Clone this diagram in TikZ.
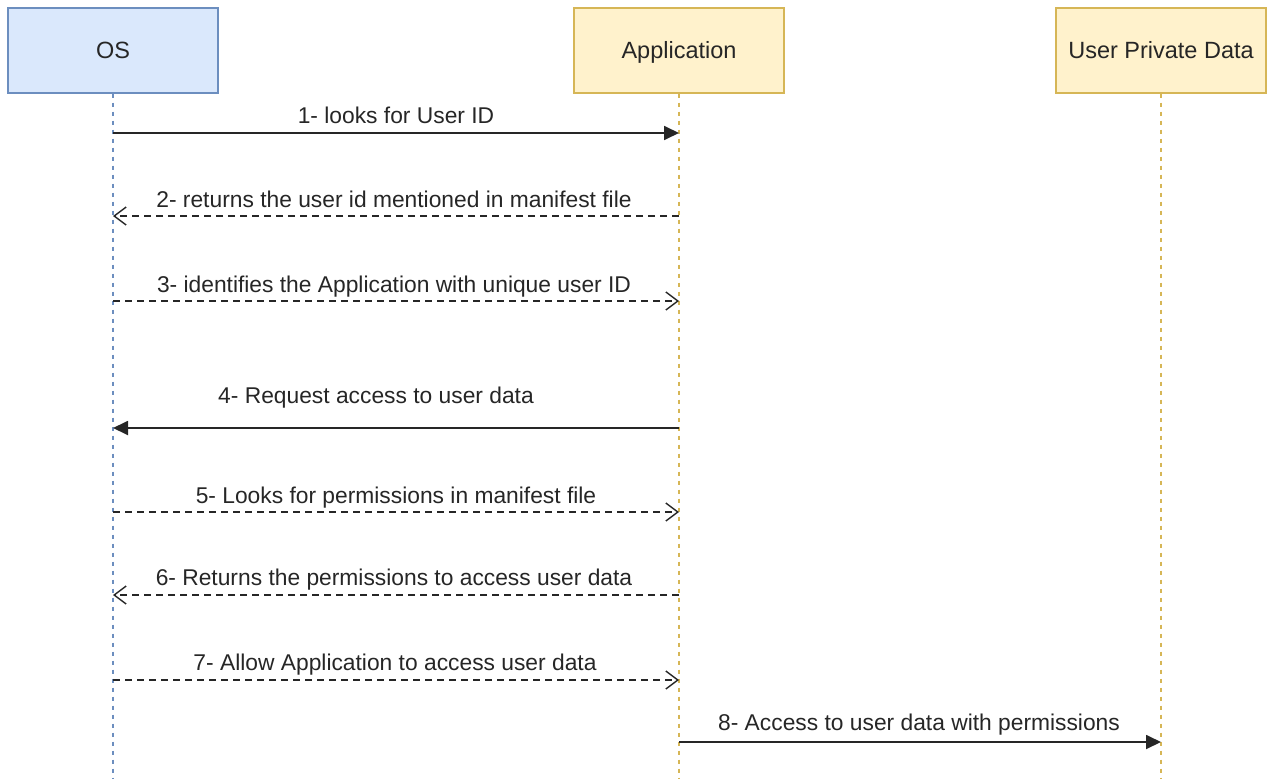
\documentclass[tikz,border=0pt]{standalone}
\usepackage{fontspec}
\setmainfont{Liberation Sans}
\usetikzlibrary{arrows.meta,positioning,calc}

\definecolor{osfill}{HTML}{DAE8FC}
\definecolor{osdraw}{HTML}{6C8EBF}
\definecolor{appfill}{HTML}{FFF2CC}
\definecolor{appdraw}{HTML}{D6B656}

\begin{document}
\begin{tikzpicture}
  \tikzstyle{actor} = [draw, line width=1.2pt, minimum width=210pt, minimum height=85pt,
                       inner sep=0pt, text height=16.5pt, text depth=0pt,
                       text=black!85, font=\fontsize{23.5}{28}\selectfont]
  \tikzstyle{lifeline} = [line width=1.2pt, dash pattern=on 4pt off 5pt]
  \tikzstyle{call} = [line width=1.8pt, black!85, -{Triangle[length=15pt,width=14pt]}]
  \tikzstyle{reply} = [line width=1.3pt, black!85, dash pattern=on 7pt off 5pt,
                       -{Straight Barb[length=12pt,width=18pt,line width=1.4pt]}]
  \tikzstyle{label} = [anchor=base, inner sep=0pt, text=black!85,
                       font=\fontsize{22.8}{27}\selectfont]

  \useasboundingbox (0pt,0pt) rectangle (1271pt,-779pt);

  \def\OS{113pt};
  \def\AP{679pt};
  \def\UD{1161pt};

  % actors
  \node[actor, fill=osfill, draw=osdraw]   (os)  at (\OS, -50.5pt) {OS};
  \node[actor, fill=appfill, draw=appdraw] (app) at (\AP, -50.5pt) {Application};
  \node[actor, fill=appfill, draw=appdraw] (upd) at (\UD, -50.5pt) {User Private Data};

  % lifelines
  \coordinate (osend)  at (\OS, -779pt);
  \coordinate (append) at (\AP, -779pt);
  \coordinate (updend) at (\UD, -779pt);
  \draw[lifeline, osdraw]  (os.south)  -- (osend);
  \draw[lifeline, appdraw] (app.south) -- (append);
  \draw[lifeline, appdraw] (upd.south) -- (updend);

  % OS side
  \coordinate (os1) at (\OS, -133pt);
  \coordinate (os2) at (\OS, -216pt);
  \coordinate (os3) at (\OS, -301pt);
  \coordinate (os4) at (\OS, -428pt);
  \coordinate (os5) at (\OS, -512pt);
  \coordinate (os6) at (\OS, -595pt);
  \coordinate (os7) at (\OS, -680pt);

  % Application side
  \coordinate (app1) at (\AP, -133pt);
  \coordinate (app2) at (\AP, -216pt);
  \coordinate (app3) at (\AP, -301pt);
  \coordinate (app4) at (\AP, -428pt);
  \coordinate (app5) at (\AP, -512pt);
  \coordinate (app6) at (\AP, -595pt);
  \coordinate (app7) at (\AP, -680pt);
  \coordinate (app8) at (\AP, -742pt);

  % User Private Data side
  \coordinate (upd8) at (\UD, -742pt);

  % messages
  \path[call]  (os1)  edge (app1);
  \path[reply] (app2) edge (os2);
  \path[reply] (os3)  edge (app3);
  \path[call]  (app4) edge (os4);
  \path[reply] (os5)  edge (app5);
  \path[reply] (app6) edge (os6);
  \path[reply] (os7)  edge (app7);
  \path[call]  (app8) edge (upd8);

  % message texts
  \node[label] (m1) at (396pt, -123pt) {1- looks for User ID};
  \node[label] (m2) at (394pt, -207pt) {2- returns the user id mentioned in manifest file};
  \node[label] (m3) at (394pt, -292pt) {3- identifies the Application with unique user ID};
  \node[label] (m4) at (376pt, -403pt) {4- Request access to user data};
  \node[label] (m5) at (396pt, -503pt) {5- Looks for permissions in manifest file};
  \node[label] (m6) at (394pt, -585pt) {6- Returns the permissions to access user data};
  \node[label] (m7) at (395pt, -670pt) {7- Allow Application to access user data};
  \node[label] (m8) at (919pt, -730pt) {8- Access to user data with permissions};

\end{tikzpicture}
\end{document}
